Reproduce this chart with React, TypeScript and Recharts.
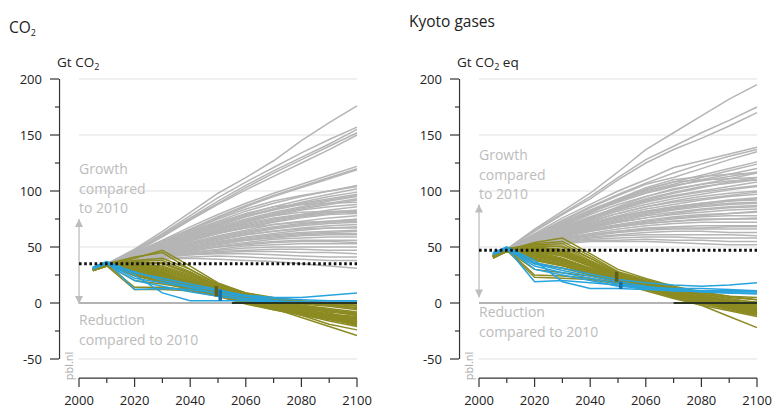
import React from 'react';
import { LineChart, Line, XAxis, YAxis, ReferenceLine, ReferenceDot } from 'recharts';

const YEARS = [2005, 2010, 2020, 2030, 2040, 2050, 2060, 2070, 2080, 2090, 2100];
const X_TICKS = [2000, 2010, 2020, 2030, 2040, 2050, 2060, 2070, 2080, 2090, 2100];
const Y_TICKS = [-50, -25, 0, 25, 50, 75, 100, 125, 150, 175, 200];
const Y_LABELS = [-50, 0, 50, 100, 150, 200];
const GRID_LINES = [-50, 50, 100, 150, 200];

// baseline scenarios (grey), 2010-2100
const co2Baseline = [
  [35, 48, 64, 81, 98, 112, 127, 145, 161, 176],
  [35, 47, 62, 78, 94, 108, 121, 134, 146, 157],
  [35, 46, 61, 76, 91, 105, 118, 130, 142, 155],
  [35, 46, 60, 75, 89, 103, 116, 128, 140, 152],
  [35, 45, 59, 74, 88, 101, 113, 125, 137, 150],
  [35, 45, 56, 68, 79, 89, 98, 106, 114, 122],
  [35, 44, 55, 66, 77, 87, 96, 104, 112, 120],
  [35, 44, 55, 66, 76, 86, 95, 103, 111, 119],
  [35, 44, 54, 64, 73, 82, 89, 95, 100, 105],
  [35, 43, 52, 62, 71, 79, 86, 92, 97, 102],
  [35, 43, 52, 61, 70, 78, 84, 90, 95, 99],
  [35, 42, 51, 60, 68, 75, 81, 86, 91, 95],
  [35, 42, 50, 58, 66, 73, 79, 84, 88, 92],
  [35, 42, 50, 58, 65, 72, 78, 83, 86, 88],
  [35, 41, 49, 57, 64, 70, 75, 79, 83, 86],
  [35, 41, 48, 56, 63, 69, 74, 78, 81, 83],
  [35, 41, 48, 55, 62, 67, 72, 76, 79, 80],
  [35, 41, 47, 54, 60, 65, 70, 73, 76, 78],
  [35, 40, 47, 53, 59, 64, 68, 71, 73, 75],
  [35, 40, 46, 52, 58, 63, 67, 70, 72, 73],
  [35, 40, 46, 51, 56, 61, 64, 67, 69, 70],
  [35, 40, 45, 50, 55, 59, 62, 65, 67, 68],
  [35, 39, 44, 49, 54, 58, 61, 63, 64, 65],
  [35, 39, 44, 48, 52, 56, 59, 61, 62, 62],
  [35, 39, 43, 47, 51, 54, 57, 58, 59, 59],
  [35, 39, 43, 46, 50, 53, 55, 56, 56, 56],
  [35, 38, 42, 45, 48, 51, 52, 53, 53, 53],
  [35, 38, 42, 45, 47, 49, 50, 50, 50, 50],
  [35, 38, 41, 44, 46, 47, 48, 48, 47, 47],
  [35, 38, 41, 43, 45, 46, 46, 45, 45, 44],
  [35, 38, 41, 43, 44, 44, 43, 42, 41, 41],
  [35, 37, 40, 41, 42, 41, 40, 39, 38, 38],
  [35, 37, 39, 40, 39, 38, 37, 35, 33, 31],
  [35, 43, 53, 63, 72, 80, 86, 88, 89, 90],
  [35, 41, 50, 59, 66, 73, 78, 81, 82, 82],
  [35, 44, 53, 62, 70, 77, 83, 88, 92, 96],
  [35, 43, 51, 59, 67, 74, 80, 85, 89, 93],
  [35, 42, 49, 56, 62, 68, 73, 77, 80, 82],
  [35, 41, 47, 53, 58, 62, 66, 69, 71, 72],
  [35, 40, 45, 50, 54, 57, 60, 62, 63, 64],
  [35, 39, 43, 47, 50, 52, 54, 55, 55, 54],
  [35, 42, 51, 60, 69, 77, 84, 89, 93, 97],
  [35, 41, 49, 57, 65, 71, 76, 79, 81, 81],
  [35, 40, 46, 52, 57, 61, 64, 66, 67, 67],
  [35, 39, 44, 49, 53, 56, 58, 60, 61, 61],
  [35, 43, 54, 65, 75, 84, 91, 96, 100, 104],
  [35, 42, 50, 57, 63, 67, 70, 72, 73, 74],
];

// mitigation scenarios (olive), 2005-2100
const co2Mitigation = [
  [29, 34, 40, 47, 33, 18, 9, 5, 2, 0, -2],
  [30, 35, 41, 45, 30, 16, 8, 3, 0, -2, -4],
  [31, 35, 38, 40, 30, 17, 9, 4, 1, -1, -3],
  [30, 34, 36, 36, 27, 15, 7, 2, -2, -5, -8],
  [29, 34, 35, 33, 25, 14, 6, 0, -4, -7, -10],
  [31, 35, 34, 30, 22, 12, 5, 0, -3, -6, -9],
  [30, 34, 33, 28, 20, 11, 4, -1, -5, -8, -11],
  [29, 33, 32, 26, 18, 10, 3, -2, -6, -10, -13],
  [30, 35, 30, 24, 16, 9, 2, -3, -7, -11, -14],
  [31, 36, 29, 22, 15, 8, 1, -4, -8, -12, -15],
  [29, 33, 28, 21, 14, 7, 0, -5, -9, -13, -16],
  [30, 34, 27, 20, 13, 6, -1, -6, -10, -14, -17],
  [30, 34, 14, 14, 12, 7, 2, -3, -8, -13, -18],
  [29, 33, 12, 12, 11, 6, 1, -4, -9, -14, -20],
  [30, 34, 20, 17, 13, 8, 3, -2, -7, -12, -16],
  [31, 35, 24, 19, 14, 8, 2, -3, -8, -13, -17],
  [30, 34, 31, 27, 19, 11, 4, -3, -11, -19, -24],
  [29, 33, 32, 28, 20, 11, 3, -5, -13, -21, -29],
  [30, 35, 33, 29, 22, 13, 6, 1, -3, -9, -15],
  [31, 35, 36, 35, 26, 14, 6, 0, -5, -10, -14],
  [30, 34, 37, 38, 28, 15, 5, -1, -6, -12, -18],
  [29, 33, 30, 25, 17, 10, 4, 0, -4, -7, -9],
  [30, 34, 29, 23, 16, 10, 5, 2, 0, -1, -2],
  [30, 35, 32, 27, 19, 12, 7, 4, 1, -2, -5],
  [31, 35, 35, 32, 24, 14, 7, 2, -2, -6, -11],
  [30, 34, 26, 19, 13, 7, 1, -4, -8, -11, -13],
  [29, 34, 25, 18, 12, 6, 0, -6, -11, -15, -19],
  [30, 35, 34, 31, 23, 13, 6, 1, -1, -3, -6],
  [30, 34, 30, 26, 19, 11, 5, -1, -6, -11, -16],
  [29, 33, 28, 24, 17, 9, 2, -4, -9, -14, -19],
  [31, 35, 33, 30, 21, 12, 4, -2, -7, -12, -17],
  [30, 34, 31, 25, 17, 9, 3, -3, -8, -13, -18],
  [30, 35, 27, 22, 15, 8, 2, -3, -7, -10, -12],
  [29, 34, 29, 24, 16, 8, 1, -5, -10, -16, -21],
];

// blue scenarios, 2005-2100
const co2Blue = [
  [31, 36, 25, 9, 2, 2, 2, 1, 1, 1, 1],
  [32, 37, 12, 13, 12, 9, 6, 4, 3, 2, 2],
  [31, 35, 28, 20, 15, 11, 7, 5, 5, 7, 9],
  [30, 36, 22, 18, 14, 8, 4, 2, 1, 0, 0],
  [32, 37, 27, 22, 17, 12, 6, 2, 0, 0, 0],
  [31, 35, 20, 15, 10, 6, 3, 1, 0, 0, 0],
];

const kyotoBaseline = [
  [48, 66, 82, 98, 117, 137, 152, 167, 182, 195],
  [48, 65, 80, 95, 112, 128, 140, 152, 163, 175],
  [48, 64, 79, 93, 110, 125, 137, 147, 158, 170],
  [48, 62, 76, 88, 100, 110, 121, 127, 133, 139],
  [48, 61, 74, 86, 97, 107, 116, 124, 131, 137],
  [48, 60, 73, 85, 96, 106, 112, 120, 128, 135],
  [48, 60, 72, 83, 93, 101, 108, 114, 120, 126],
  [48, 59, 70, 81, 90, 98, 104, 110, 115, 120],
  [48, 58, 69, 79, 88, 95, 101, 106, 111, 116],
  [48, 58, 68, 77, 85, 92, 98, 103, 108, 112],
  [48, 57, 67, 76, 84, 91, 96, 100, 104, 108],
  [48, 57, 66, 74, 82, 88, 93, 97, 101, 104],
  [48, 56, 65, 73, 80, 86, 91, 95, 98, 100],
  [48, 56, 64, 72, 78, 84, 88, 92, 95, 97],
  [48, 56, 63, 70, 77, 82, 86, 89, 91, 93],
  [48, 55, 62, 69, 75, 80, 84, 87, 89, 90],
  [48, 55, 62, 68, 73, 78, 81, 84, 86, 87],
  [48, 55, 61, 67, 72, 76, 79, 81, 83, 84],
  [48, 54, 60, 66, 70, 74, 77, 79, 80, 81],
  [48, 54, 60, 65, 69, 72, 75, 77, 78, 78],
  [48, 54, 59, 64, 68, 71, 73, 75, 75, 75],
  [48, 53, 58, 62, 66, 69, 71, 72, 72, 72],
  [48, 53, 58, 61, 64, 67, 68, 69, 69, 69],
  [48, 53, 57, 60, 63, 65, 66, 66, 66, 66],
  [48, 52, 56, 59, 61, 63, 64, 64, 63, 63],
  [48, 52, 55, 58, 60, 61, 61, 61, 61, 60],
  [48, 52, 55, 57, 58, 59, 59, 58, 58, 58],
  [48, 51, 54, 56, 56, 57, 56, 56, 55, 55],
  [48, 51, 53, 55, 55, 55, 54, 53, 52, 52],
  [48, 58, 70, 82, 93, 103, 110, 113, 115, 116],
  [48, 57, 68, 80, 92, 102, 108, 110, 111, 112],
  [48, 56, 66, 76, 86, 95, 102, 106, 109, 110],
  [48, 59, 71, 82, 92, 100, 106, 112, 118, 124],
  [48, 57, 66, 75, 83, 90, 95, 99, 102, 105],
  [48, 56, 64, 71, 77, 82, 86, 89, 92, 94],
  [48, 55, 62, 68, 74, 79, 83, 86, 88, 89],
  [48, 54, 61, 67, 72, 76, 80, 83, 85, 86],
  [48, 53, 59, 64, 68, 71, 73, 74, 75, 76],
  [48, 52, 57, 61, 64, 66, 67, 67, 68, 68],
  [48, 58, 70, 81, 91, 99, 105, 109, 113, 117],
  [48, 57, 67, 76, 85, 93, 99, 104, 107, 110],
  [48, 56, 65, 73, 80, 86, 90, 93, 96, 99],
  [48, 55, 63, 70, 76, 81, 85, 88, 91, 92],
  [48, 54, 60, 65, 69, 73, 76, 78, 80, 82],
];

const kyotoMitigation = [
  [41, 47, 54, 58, 44, 30, 22, 15, 10, 6, 3],
  [42, 48, 53, 55, 42, 28, 21, 14, 8, 4, 0],
  [43, 48, 51, 51, 40, 27, 20, 13, 7, 2, -2],
  [41, 47, 50, 48, 37, 26, 19, 12, 6, 1, -4],
  [40, 46, 49, 45, 35, 24, 17, 10, 4, -1, -6],
  [42, 48, 48, 43, 33, 23, 16, 9, 3, -2, -7],
  [41, 47, 46, 40, 31, 22, 15, 8, 2, -3, -8],
  [43, 49, 44, 38, 29, 20, 13, 6, 0, -4, -9],
  [42, 48, 42, 36, 28, 19, 12, 5, -1, -5, -10],
  [41, 47, 40, 34, 26, 18, 11, 4, -2, -7, -12],
  [42, 48, 25, 24, 22, 18, 13, 8, 3, -1, -4],
  [41, 47, 23, 22, 21, 17, 12, 7, 2, -3, -7],
  [42, 47, 30, 27, 24, 19, 14, 9, 4, -1, -5],
  [43, 48, 35, 31, 27, 21, 15, 9, 3, -3, -9],
  [41, 47, 47, 42, 33, 22, 14, 6, -2, -12, -22],
  [42, 48, 50, 47, 36, 25, 17, 9, 2, -4, -10],
  [42, 48, 52, 53, 40, 27, 19, 13, 9, 6, 5],
  [41, 47, 45, 39, 31, 23, 17, 12, 8, 5, 3],
  [43, 48, 43, 37, 30, 22, 16, 10, 5, 1, -2],
  [42, 47, 38, 33, 27, 20, 14, 8, 3, -1, -5],
  [41, 46, 41, 35, 28, 20, 14, 8, 3, 0, -3],
  [42, 48, 49, 46, 36, 25, 18, 12, 7, 3, 1],
  [40, 46, 36, 31, 25, 19, 14, 9, 5, 2, -1],
  [42, 48, 47, 44, 34, 24, 17, 11, 6, 2, -2],
  [43, 49, 51, 50, 38, 26, 19, 12, 6, 0, -5],
  [41, 47, 44, 38, 30, 21, 14, 7, 0, -6, -11],
  [42, 48, 46, 42, 33, 23, 16, 9, 2, -4, -8],
  [41, 47, 44, 39, 31, 22, 15, 8, 1, -5, -10],
  [42, 47, 42, 37, 29, 21, 15, 9, 4, -1, -6],
  [43, 48, 48, 44, 35, 25, 17, 10, 3, -3, -9],
  [41, 46, 39, 34, 27, 20, 14, 8, 2, -3, -7],
];

const kyotoBlue = [
  [44, 49, 19, 20, 18, 16, 14, 13, 13, 12, 11],
  [45, 50, 38, 19, 13, 13, 12, 11, 11, 11, 11],
  [44, 49, 36, 31, 26, 21, 18, 16, 15, 16, 18],
  [43, 48, 33, 27, 22, 17, 14, 12, 11, 10, 10],
  [44, 50, 30, 25, 20, 15, 13, 11, 10, 9, 9],
  [45, 49, 35, 29, 24, 19, 15, 12, 10, 9, 8],
];

// 2010 level, arrow extent and 2050 range bars
const co2Level = 35;
const co2Arrow = [75, -1];
const co2OliveBar = [2049.4, 6, 15];
const co2BlueBar = [2050.8, 2, 12];
const co2DarkZeroFrom = 2055;

const kyotoLevel = 47;
const kyotoArrow = [88, 5];
const kyotoOliveBar = [2049.5, 19, 28];
const kyotoBlueBar = [2051, 12.5, 19];
const kyotoDarkZeroFrom = 2070;

const GREY = '#b5b5b5';
const OLIVE = '#8c8b22';
const BLUE = '#27a3de';
const FONT = '"Open Sans", sans-serif';

const buildRows = (grey: number[][], olive: number[][], blue: number[][]) =>
  YEARS.map((year, i) => {
    const row: Record<string, number | null> = { year };
    grey.forEach((s, j) => { row['g' + j] = i === 0 ? null : s[i - 1]; });
    olive.forEach((s, j) => { row['o' + j] = s[i]; });
    blue.forEach((s, j) => { row['b' + j] = s[i]; });
    return row;
  });

const XTick = ({ x, y, payload }: any) => {
  const major = payload.value % 20 === 0;
  return (
    <g>
      <line x1={x} x2={x} y1={y + 19} y2={y + 19 + (major ? 9 : 5)} stroke="#333" strokeWidth={1.2} />
      {major && (
        <text x={x} y={y + 46} textAnchor="middle" fontSize={13} fill="#222" fontFamily={FONT}>
          {payload.value}
        </text>
      )}
    </g>
  );
};

const YTick = ({ x, y, payload }: any) => {
  const major = Y_LABELS.includes(payload.value);
  return (
    <g>
      <line x1={x - 20 - (major ? 9 : 4)} x2={x - 20} y1={y} y2={y} stroke="#333" strokeWidth={1.2} />
      {major && (
        <text x={x - 37} y={y + 5} textAnchor="end" fontSize={13} fill="#222" fontFamily={FONT}>
          {payload.value}
        </text>
      )}
    </g>
  );
};

const ArrowHead = ({ cx, cy, dir }: any) => (
  <path
    d={dir === 'up'
      ? `M${cx - 4},${cy + 8} L${cx},${cy} L${cx + 4},${cy + 8} Z`
      : `M${cx - 4},${cy - 8} L${cx},${cy} L${cx + 4},${cy - 8} Z`}
    fill="#bdbdbd"
  />
);

interface PanelProps {
  grey: number[][];
  olive: number[][];
  blue: number[][];
  level: number;
  arrow: number[];
  oliveBar: number[];
  blueBar: number[];
  darkZeroFrom: number;
}

const Panel = ({ grey, olive, blue, level, arrow, oliveBar, blueBar, darkZeroFrom }: PanelProps) => {
  const rows = buildRows(grey, olive, blue);
  return (
    <LineChart width={386} height={410} data={rows} margin={{ top: 79, right: 29, bottom: 11, left: 19 }}>
      <XAxis
        dataKey="year" type="number" domain={[2000, 2100]} ticks={X_TICKS} interval={0}
        axisLine={false} tickLine={false} tickSize={0} tickMargin={0} height={40} tick={<XTick />}
      />
      <YAxis
        type="number" domain={[-50, 200]} ticks={Y_TICKS} interval={0}
        axisLine={false} tickLine={false} tickSize={0} tickMargin={0} width={60} tick={<YTick />}
      />
      {GRID_LINES.map(v => (
        <ReferenceLine key={'grid' + v} y={v} stroke="#e2e2e2" strokeWidth={1.2} />
      ))}
      <ReferenceLine y={0} stroke="#9a9a9a" strokeWidth={1.5} />
      <ReferenceLine segment={[{ x: 1993, y: -50 }, { x: 1993, y: 200 }]} stroke="#333" strokeWidth={1.2} ifOverflow="visible" />
      <ReferenceLine segment={[{ x: 2000, y: -67 }, { x: 2100, y: -67 }]} stroke="#333" strokeWidth={1.2} ifOverflow="visible" />
      <ReferenceLine segment={[{ x: 2000, y: arrow[0] }, { x: 2000, y: arrow[1] }]} stroke="#bdbdbd" strokeWidth={1.3} ifOverflow="visible" />
      <ReferenceDot x={2000} y={arrow[0]} ifOverflow="visible" shape={(p: any) => <ArrowHead {...p} dir="up" />} />
      <ReferenceDot x={2000} y={arrow[1]} ifOverflow="visible" shape={(p: any) => <ArrowHead {...p} dir="down" />} />
      {grey.map((_, j) => (
        <Line key={'g' + j} dataKey={'g' + j} type="linear" stroke={GREY} strokeWidth={1.5} dot={false} isAnimationActive={false} />
      ))}
      {olive.map((_, j) => (
        <Line key={'o' + j} dataKey={'o' + j} type="linear" stroke={OLIVE} strokeWidth={1.5} dot={false} isAnimationActive={false} />
      ))}
      {blue.map((_, j) => (
        <Line key={'b' + j} dataKey={'b' + j} type="linear" stroke={BLUE} strokeWidth={1.5} dot={false} isAnimationActive={false} />
      ))}
      <ReferenceLine segment={[{ x: darkZeroFrom, y: 0 }, { x: 2100, y: 0 }]} stroke="#2a3522" strokeWidth={2} />
      <ReferenceLine y={level} stroke="#111" strokeWidth={3} strokeDasharray="2.6 2.6" />
      <ReferenceLine segment={[{ x: oliveBar[0], y: oliveBar[1] }, { x: oliveBar[0], y: oliveBar[2] }]} stroke="#5f5e1c" strokeWidth={3.5} />
      <ReferenceLine segment={[{ x: blueBar[0], y: blueBar[1] }, { x: blueBar[0], y: blueBar[2] }]} stroke="#1670a8" strokeWidth={3.5} />
    </LineChart>
  );
};

const annot: React.CSSProperties = {
  position: 'absolute', color: '#bcbcbc', fontSize: 14, lineHeight: '19.5px', fontFamily: FONT, whiteSpace: 'nowrap',
};
const sub: React.CSSProperties = { fontSize: 9, verticalAlign: -3 };

const Overlay = ({ title, unit, growthTop, reductionTop }: any) => (
  <>
    <div style={{ position: 'absolute', left: 9, top: title.top, fontSize: 15.5, color: '#222', fontFamily: FONT }}>{title.node}</div>
    <div style={{ position: 'absolute', left: 57, top: 53, fontSize: 13.5, color: '#222', fontFamily: FONT }}>{unit}</div>
    <div style={{ ...annot, left: 79, top: growthTop }}>Growth<br />compared<br />to 2010</div>
    <div style={{ ...annot, left: 79, top: reductionTop }}>Reduction<br />compared to 2010</div>
    <div style={{
      position: 'absolute', left: 68, top: 366, fontSize: 11, color: '#a8a8a8', fontFamily: FONT,
      transform: 'translate(-50%, -50%) rotate(-90deg)',
    }}>pbl.nl</div>
  </>
);

export default function App() {
  return (
    <div style={{ position: 'fixed', left: 0, top: 0, width: 772, height: 410, background: '#fff', overflow: 'hidden' }}>
      <div style={{ position: 'absolute', left: 0, top: 0, width: 386, height: 410 }}>
        <Panel grey={co2Baseline} olive={co2Mitigation} blue={co2Blue} level={co2Level}
          arrow={co2Arrow} oliveBar={co2OliveBar} blueBar={co2BlueBar} darkZeroFrom={co2DarkZeroFrom} />
        <Overlay
          title={{ top: 16, node: <span>CO<span style={sub}>2</span></span> }}
          unit={<span>Gt CO<span style={sub}>2</span></span>}
          growthTop={159} reductionTop={310}
        />
      </div>
      <div style={{ position: 'absolute', left: 400, top: 0, width: 386, height: 410 }}>
        <Panel grey={kyotoBaseline} olive={kyotoMitigation} blue={kyotoBlue} level={kyotoLevel}
          arrow={kyotoArrow} oliveBar={kyotoOliveBar} blueBar={kyotoBlueBar} darkZeroFrom={kyotoDarkZeroFrom} />
        <Overlay
          title={{ top: 10, node: <span>Kyoto gases</span> }}
          unit={<span>Gt CO<span style={sub}>2</span> eq</span>}
          growthTop={145} reductionTop={302}
        />
      </div>
    </div>
  );
}
